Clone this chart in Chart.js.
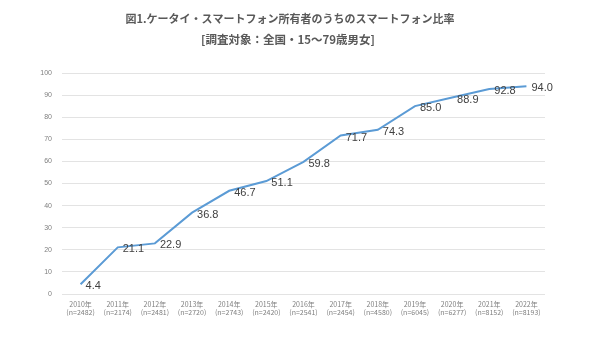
<!DOCTYPE html>
<html><head><meta charset="utf-8">
<script src="https://cdn.jsdelivr.net/npm/chart.js@4/dist/chart.umd.min.js"></script>
<style>html,body{margin:0;padding:0;background:#fff;}#wrap{width:600px;height:343px;}</style>
</head><body><div id="wrap"><canvas id="c" width="600" height="343"></canvas></div>
<script>
const years = ["2010年","2011年","2012年","2013年","2014年","2015年","2016年","2017年","2018年","2019年","2020年","2021年","2022年"];
const samples = ["(n=2482)","(n=2174)","(n=2481)","(n=2720)","(n=2743)","(n=2420)","(n=2541)","(n=2454)","(n=4580)","(n=6045)","(n=6277)","(n=8152)","(n=8193)"];
const ratio = [4.4,21.1,22.9,36.8,46.7,51.1,59.8,71.7,74.3,85.0,88.9,92.8,94.0];
const titleText = "図1.ケータイ・スマートフォン所有者のうちのスマートフォン比率";
const subtitleText = "[調査対象：全国・15～79歳男女]";
const labels = years.map((y,i)=>[y, samples[i]]);

const textPlugin = {
  id:'textPlugin',
  afterDraw(chart){
    const ctx = chart.ctx;
    ctx.save();
    ctx.fillStyle = '#595959';
    ctx.textAlign = 'center';
    ctx.textBaseline = 'middle';
    ctx.font = 'bold 11px "Noto Sans CJK JP"';
    ctx.fillText(titleText, 290, 19);
    ctx.font = 'bold 11.5px "Noto Sans CJK JP"';
    ctx.fillText(subtitleText, 288, 40);
    // data labels
    const meta = chart.getDatasetMeta(0);
    ctx.font = '11px "Liberation Sans", Arial, sans-serif';
    ctx.fillStyle = '#404040';
    ctx.textAlign = 'left';
    meta.data.forEach((pt,i)=>{
      ctx.fillText(ratio[i].toFixed(1), pt.x+5, pt.y+2);
    });
    ctx.restore();
  }
};

new Chart(document.getElementById('c'), {
  type:'line',
  data:{labels:labels, datasets:[{data:ratio, borderColor:'#5b9bd5', borderWidth:2, pointRadius:0, tension:0, fill:false}]},
  options:{
    responsive:false, animation:false,
    layout:{padding:{top:73, right:55, left:0, bottom:0}},
    plugins:{legend:{display:false}, tooltip:{enabled:false}},
    scales:{
      x:{offset:true, grid:{display:false, drawTicks:false}, border:{display:false},
         ticks:{font:{size:7, family:'"Noto Sans CJK JP"'}, color:'#7f7f7f', padding:6, maxRotation:0, autoSkip:false},
         afterFit(s){ s.height = 49; }},
      y:{min:0, max:100, grid:{color:'#e3e3e3', drawTicks:false}, border:{display:false},
         ticks:{stepSize:10, font:{size:7, family:'"Liberation Sans"'}, color:'#7f7f7f', padding:10},
         afterFit(s){ s.width = 62; }}
    }
  },
  plugins:[textPlugin]
});
</script></body></html>
